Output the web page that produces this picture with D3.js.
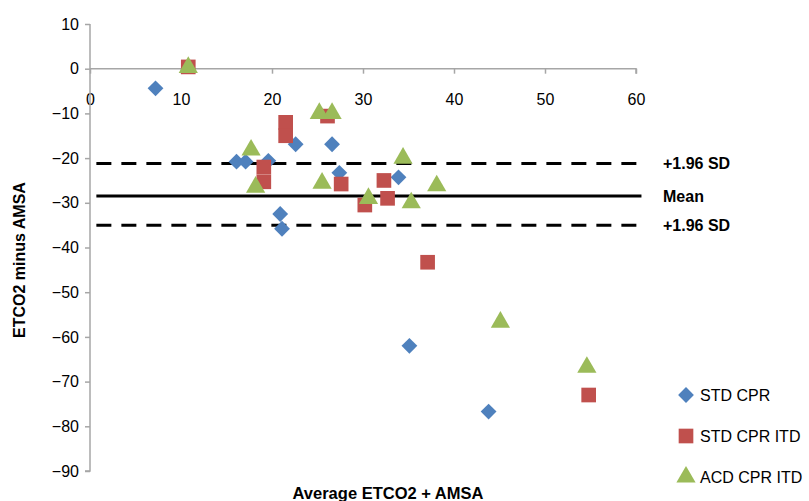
<!DOCTYPE html>
<html><head><meta charset="utf-8">
<script src="https://cdn.jsdelivr.net/npm/d3@7"></script>
<style>body{margin:0;background:#fff}svg{display:block}</style>
</head><body>
<svg id="c" width="809" height="501"></svg>
<script>
const xTicks = [0,10,20,30,40,50,60];
const yTicks = [10,0,-10,-20,-30,-40,-50,-60,-70,-80,-90];
const stdCpr = [[7.2,-4.4],[16.1,-20.8],[17.1,-20.8],[19.6,-20.6],[20.9,-32.5],[21.1,-35.8],[22.6,-16.9],[26.6,-16.9],[27.4,-23.3],[33.9,-24.3],[35.1,-62.0],[43.8,-76.7]];
const stdCprItd = [[10.8,0.4],[19.1,-22.0],[19.1,-25.3],[21.5,-12.0],[21.5,-15.0],[26.1,-10.6],[27.6,-25.8],[30.2,-30.5],[32.3,-25.0],[32.7,-29.0],[37.1,-43.3],[54.8,-73.0]];
const acdCprItd = [[10.8,0.3],[17.7,-18.2],[18.2,-26.5],[25.2,-10.0],[26.6,-10.0],[25.5,-25.6],[30.6,-29.0],[34.4,-20.0],[35.3,-30.0],[38.1,-26.2],[45.1,-56.7],[54.6,-66.8]];
const seriesNames = ["STD CPR","STD CPR ITD","ACD CPR ITD"];
const seriesColors = ["#4F81BD","#C0504D","#9BBB59"];
const seriesShapes = [d3.symbolSquare, d3.symbolSquare, d3.symbolTriangle];
const seriesRotate = [45, 0, 0];
const refValues = [-21.2, -28.5, -35.0];
const refLabels = ["+1.96 SD","Mean","+1.96 SD"];
const refDashed = [true,false,true];
const refExtent = [0.7, 60.6];

const svg = d3.select("#c");
const font = "'Liberation Sans', Arial, sans-serif";
const x = d3.scaleLinear().domain([0,60]).range([90,636]);
const y = d3.scaleLinear().domain([10,-90]).range([24,471]);

// axes
const xAxis = svg.append("g").attr("transform",`translate(0,${y(0)})`)
  .call(d3.axisBottom(x).tickValues(xTicks).tickSize(5).tickPadding(20).tickFormat(d3.format("d")));
const yAxis = svg.append("g").attr("transform",`translate(${x(0)},0)`)
  .call(d3.axisLeft(y).tickValues(yTicks).tickSize(5).tickPadding(6).tickFormat(d=> d<0 ? "\u2212"+Math.abs(d) : d));
[xAxis,yAxis].forEach(g=>{
  g.selectAll("path.domain").attr("stroke","#a6a6a6").attr("stroke-width",1.5);
  g.selectAll(".tick line").attr("stroke","#a6a6a6").attr("stroke-width",1.5);
  g.selectAll(".tick text").attr("fill","#000").style("font-family",font).style("font-size","16px");
});
yAxis.select("path.domain").attr("d",`M-0,${y(10)}H0V${y(-90)}H-5`);
xAxis.select("path.domain").attr("d",`M${x(0)},0H${x(60)}V5`);

// reference lines
refValues.forEach((v,i)=>{
  svg.append("line").attr("x1",x(refExtent[0])).attr("x2",x(refExtent[1]))
    .attr("y1",y(v)).attr("y2",y(v)).attr("stroke","#000").attr("stroke-width",3)
    .attr("stroke-dasharray",refDashed[i]?"15,10":null);
  svg.append("text").attr("x",663).attr("y",y(v)).attr("dy","0.35em")
    .style("font-family",font).style("font-size","16px").style("font-weight","bold")
    .text(refLabels[i]);
});

// points
const allSeries = [stdCpr, stdCprItd, acdCprItd];
const sizes = [125, 215, 160];
allSeries.forEach((data,i)=>{
  svg.append("g").selectAll("path").data(data).join("path")
    .attr("transform",d=>`translate(${x(d[0])},${y(d[1])}) rotate(${seriesRotate[i]})`)
    .attr("d",d3.symbol().type(seriesShapes[i]).size(sizes[i]))
    .attr("fill",seriesColors[i]);
});

// legend
const legY = [395,436,477];
seriesNames.forEach((n,i)=>{
  svg.append("path").attr("transform",`translate(686,${legY[i]}) rotate(${seriesRotate[i]})`)
    .attr("d",d3.symbol().type(seriesShapes[i]).size(sizes[i])).attr("fill",seriesColors[i]);
  svg.append("text").attr("x",700).attr("y",legY[i]).attr("dy","0.35em")
    .style("font-family",font).style("font-size","16px").text(n);
});

// axis titles
svg.append("text").attr("x",388).attr("y",499).attr("text-anchor","middle")
  .style("font-family",font).style("font-size","16.5px").style("font-weight","bold")
  .text("Average ETCO2 + AMSA");
svg.append("text").attr("transform","translate(25,260) rotate(-90)").attr("text-anchor","middle")
  .style("font-family",font).style("font-size","16px").style("font-weight","bold")
  .text("ETCO2 minus AMSA");
</script>
</body></html>
